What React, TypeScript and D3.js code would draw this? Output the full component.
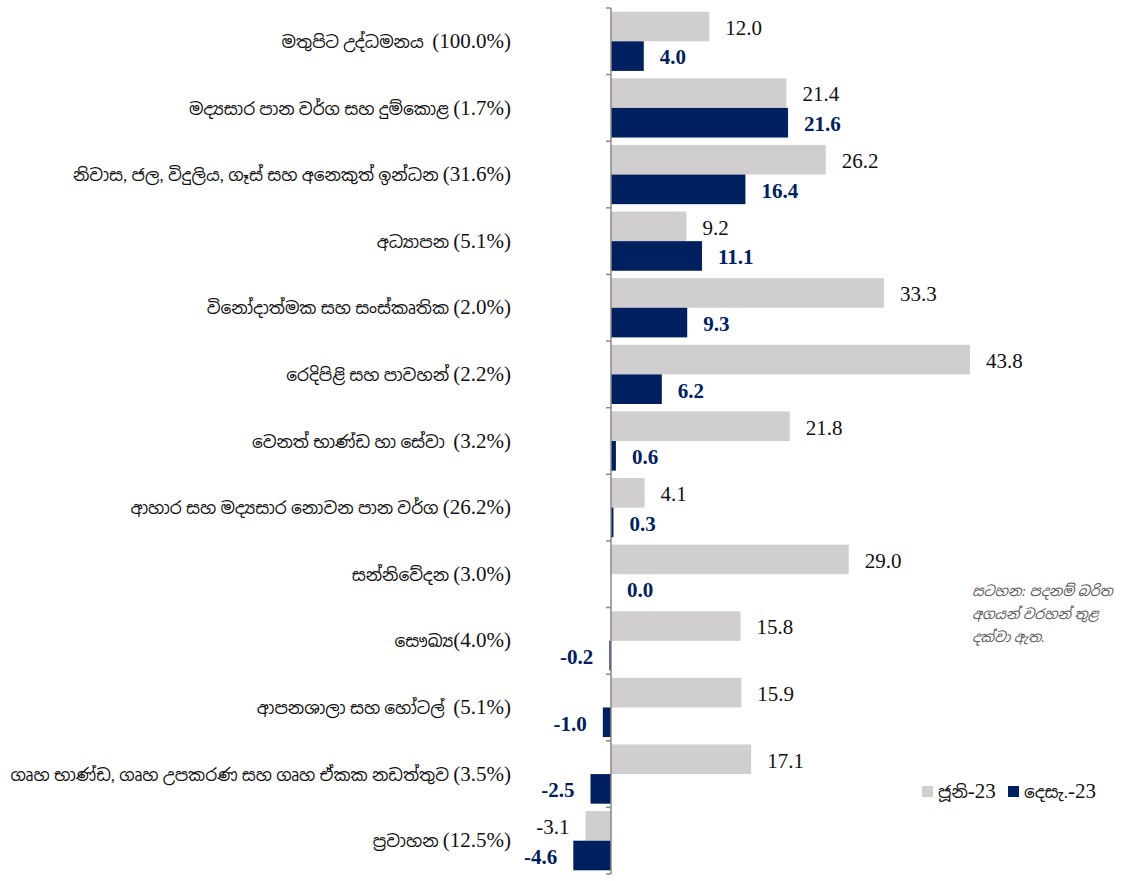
import React from "react";
import * as d3 from "d3";

const categories = [
  "මතුපිට උද්ධමනය",
  "මද්‍යසාර පාන වර්ග සහ දුම්කොළ",
  "නිවාස, ජල, විදුලිය, ගෑස් සහ අනෙකුත් ඉන්ධන",
  "අධ්‍යාපන",
  "විනෝදාත්මක සහ සංස්කෘතික",
  "රෙදිපිළි සහ පාවහන්",
  "වෙනත් භාණ්ඩ හා සේවා",
  "ආහාර සහ මද්‍යසාර නොවන පාන වර්ග",
  "සන්නිවේදන",
  "සෞඛ්‍ය",
  "ආපනශාලා සහ හෝටල්",
  "ගෘහ භාණ්ඩ, ගෘහ උපකරණ සහ ගෘහ ඒකක නඩත්තුව",
  "ප්‍රවාහන",
];
const weights = ["(100.0%)", "(1.7%)", "(31.6%)", "(5.1%)", "(2.0%)", "(2.2%)", "(3.2%)", "(26.2%)", "(3.0%)", "(4.0%)", "(5.1%)", "(3.5%)", "(12.5%)"];
const gaps = ["  ", " ", " ", " ", " ", " ", "  ", " ", " ", "", "  ", " ", " "];

const june23 = [12.0, 21.4, 26.2, 9.2, 33.3, 43.8, 21.8, 4.1, 29.0, 15.8, 15.9, 17.1, -3.1];
const dec23 = [4.0, 21.6, 16.4, 11.1, 9.3, 6.2, 0.6, 0.3, 0.0, -0.2, -1.0, -2.5, -4.6];

const seriesNames = ["ජූනි", "දෙසැ."];
const seriesSuffix = ["-23", "-23"];
const noteLines = ["සටහන: පදනම් බරිත", "අගයන් වරහන් තුළ", "දක්වා ඇත."];

const GRAY = "#d0cece";
const NAVY = "#002060";
const FONT = "'Liberation Serif', 'Noto Sans Sinhala', 'Noto Serif Sinhala', serif";

export default function App() {
  const W = 1134;
  const H = 881;
  const x = d3.scaleLinear().domain([0, 43.8]).range([611, 970]);
  const y = d3.scaleBand<number>().domain(d3.range(categories.length)).range([8, 874]).paddingInner(0).paddingOuter(0);
  const sub = d3.scaleBand<number>().domain([0, 1]).range([0, y.bandwidth()]).paddingInner(0).paddingOuter(0.125);
  const series = [june23, dec23];
  const colors = [GRAY, NAVY];
  const x0 = x(0);

  return (
    <svg width={W} height={H} style={{ position: "absolute", left: 0, top: 0, background: "#fff" }}>
      {categories.map((c, i) => (
        <text key={"c" + i} x={511} y={(y(i) as number) + y.bandwidth() / 2 + 1} dy="0.35em" textAnchor="end"
          fontFamily={FONT} fill="#111" style={{ whiteSpace: "pre" }}>
          <tspan fontSize={17}>{c + gaps[i]}</tspan>
          <tspan fontSize={21}>{weights[i]}</tspan>
        </text>
      ))}
      {series.map((vals, s) =>
        vals.map((v, i) => {
          const yy = (y(i) as number) + (sub(s) as number);
          const h = sub.bandwidth();
          const xs = Math.min(x(v), x0);
          const w = Math.abs(x(v) - x0);
          const lx = v >= 0 ? x(v) + 16 : x(v) - 16;
          return (
            <g key={`b${s}-${i}`}>
              <rect x={xs} y={yy} width={w} height={h} fill={colors[s]} />
              <text x={lx} y={yy + h / 2 + 1} dy="0.35em" textAnchor={v >= 0 ? "start" : "end"}
                fontFamily={FONT} fontSize={21} fontWeight={s === 1 ? "bold" : "normal"}
                fill={s === 1 ? NAVY : "#111"}>{v.toFixed(1)}</text>
            </g>
          );
        })
      )}
      <line x1={x0} x2={x0} y1={8} y2={874} stroke="#898989" strokeWidth={1.5} />
      {d3.range(categories.length + 1).map((i) => {
        const ty = i < categories.length ? (y(i) as number) : 874;
        return <line key={"t" + i} x1={x0 - 5} x2={x0} y1={ty} y2={ty} stroke="#898989" strokeWidth={1.5} />;
      })}
      {noteLines.map((l, i) => (
        <text key={"n" + i} x={972} y={591 + i * 23} dy="0.35em" fontFamily={FONT} fontSize={14}
          fontStyle="italic" fill="#595959">{l}</text>
      ))}
      <rect x={922} y={786} width={11} height={11} fill={GRAY} />
      <text x={938} y={792} dy="0.35em" fontFamily={FONT} fill="#111">
        <tspan fontSize={17}>{seriesNames[0]}</tspan><tspan fontSize={21}>{seriesSuffix[0]}</tspan>
      </text>
      <rect x={1008} y={786} width={11} height={11} fill={NAVY} />
      <text x={1024} y={792} dy="0.35em" fontFamily={FONT} fill="#111">
        <tspan fontSize={17}>{seriesNames[1]}</tspan><tspan fontSize={21}>{seriesSuffix[1]}</tspan>
      </text>
    </svg>
  );
}
